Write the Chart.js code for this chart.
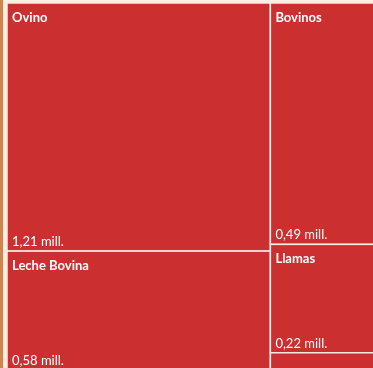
<!DOCTYPE html>
<html>
<head>
<meta charset="utf-8">
<script src="https://cdn.jsdelivr.net/npm/chart.js@4/dist/chart.umd.min.js"></script>
<style>
  html, body { margin: 0; padding: 0; width: 373px; height: 368px; overflow: hidden; background: #f6f2e2; }
  #strip { position: absolute; left: 0; top: 0; width: 3px; height: 368px; background: #cf8452; }
  #wrap { position: absolute; left: 0; top: 0; width: 380px; height: 370px; }
</style>
</head>
<body>
<div id="strip"></div>
<div id="wrap"><canvas id="c"></canvas></div>
<script>
// Data
const names = ['Ovino', 'Leche Bovina', 'Bovinos', 'Llamas', 'Otros'];
const values = [1.21, 0.58, 0.49, 0.22, 0.035];
const valueLabels = ['1,21 mill.', '0,58 mill.', '0,49 mill.', '0,22 mill.', ''];
const columns = [[0, 1], [2, 3, 4]];

const total = values.reduce((a, b) => a + b, 0);

// Treemap rectangles in data units (x: 0..total, y: 0..1)
function layout() {
  const rects = [];
  let x0 = 0;
  columns.forEach(col => {
    const colSum = col.reduce((s, i) => s + values[i], 0);
    let y0 = 0;
    col.forEach(i => {
      const h = values[i] / colSum;
      rects.push({ i, x0, x1: x0 + colSum, y0, y1: y0 + h });
      y0 += h;
    });
    x0 += colSum;
  });
  return rects;
}

const treemapPlugin = {
  id: 'treemap',
  afterDatasetsDraw(chart) {
    const { ctx, scales: { x, y } } = chart;
    const rects = layout();
    ctx.save();
    rects.forEach(r => {
      const px0 = x.getPixelForValue(r.x0), px1 = x.getPixelForValue(r.x1);
      const py0 = y.getPixelForValue(r.y0), py1 = y.getPixelForValue(r.y1);
      ctx.fillStyle = '#cc2f2f';
      ctx.fillRect(px0, py0, px1 - px0, py1 - py0);
      ctx.strokeStyle = '#fbe9e6';
      ctx.lineWidth = 1.5;
      ctx.strokeRect(px0, py0, px1 - px0, py1 - py0);
      if (py1 - py0 > 40) {
        ctx.fillStyle = '#ffffff';
        ctx.textBaseline = 'alphabetic';
        ctx.font = 'bold 13px Lato, "Open Sans", sans-serif';
        ctx.fillText(names[r.i], px0 + 5, py0 + 19);
        ctx.font = '13px Lato, "Open Sans", sans-serif';
        ctx.fillText(valueLabels[r.i], px0 + 5, py1 - 5);
      }
    });
    ctx.restore();
  }
};

new Chart(document.getElementById('c'), {
  type: 'scatter',
  data: { datasets: [{ data: [] }] },
  options: {
    responsive: true,
    maintainAspectRatio: false,
    animation: false,
    layout: { padding: { left: 7, top: 3, right: 0, bottom: 0 } },
    plugins: { legend: { display: false }, tooltip: { enabled: false } },
    scales: {
      x: { display: false, min: 0, max: total },
      y: { display: false, min: 0, max: 1, reverse: true }
    }
  },
  plugins: [treemapPlugin]
});
</script>
</body>
</html>
